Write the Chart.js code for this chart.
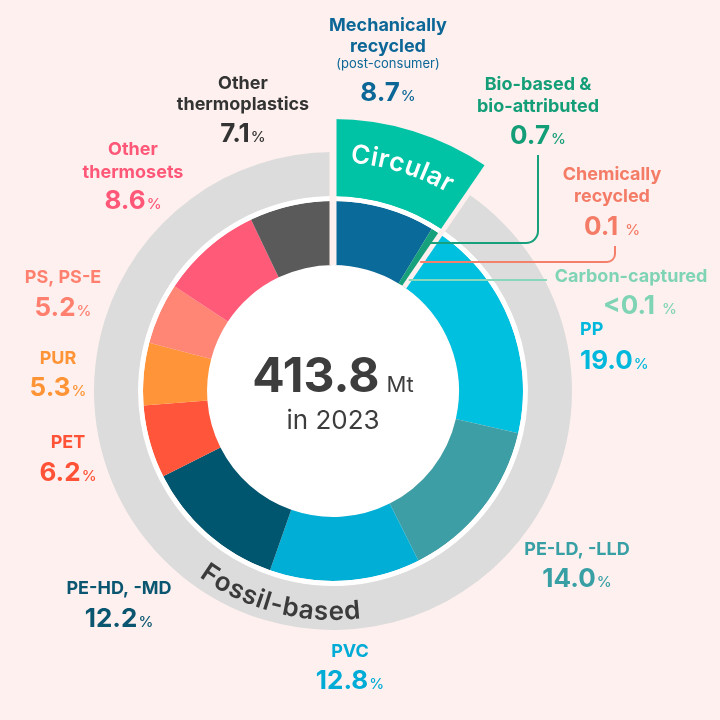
<!DOCTYPE html>
<html>
<head>
<meta charset="utf-8">
<script src="https://cdn.jsdelivr.net/npm/chart.js@4.4.1/dist/chart.umd.min.js"></script>
<style>
  html, body { margin: 0; padding: 0; background: #fdf0ee; }
  canvas { display: block; }
</style>
</head>
<body>
<canvas id="plasticsChart" width="720" height="720"></canvas>
<script>
// World plastics production 2023, share by type (%)
const categories = [
  'Mechanically recycled (post-consumer)', 'Bio-based & bio-attributed', 'Chemically recycled',
  'Carbon-captured', 'PP', 'PE-LD, -LLD', 'PVC', 'PE-HD, -MD', 'PET', 'PUR', 'PS, PS-E',
  'Other thermosets', 'Other thermoplastics'
];
const shares = [8.7, 0.7, 0.1, 0.05, 19.0, 14.0, 12.8, 12.2, 6.2, 5.3, 5.2, 8.6, 7.1];
const shareText = ['8.7', '0.7', '0.1', '<0.1', '19.0', '14.0', '12.8', '12.2', '6.2', '5.3', '5.2', '8.6', '7.1'];
const groups = ['Circular', 'Fossil-based'];
const groupCount = [4, 9];  // how many categories belong to each group
const totalMt = 413.8;
const year = 2023;

const segmentColors = ['#0a6a9a', '#16a07b', '#f47f6b', '#8ad8bc', '#00c0df', '#3d9fa5',
  '#00aed6', '#00566f', '#ff553b', '#ff9538', '#ff8574', '#ff5a78', '#5a5a5a'];
const labelColors = ['#0c6797', '#139e78', '#f47b66', '#80d4b6', '#00b8dc', '#38a0a5',
  '#00acd6', '#0a5570', '#ff5236', '#ff9436', '#ff806f', '#ff5777', '#333333'];
const TEAL = '#00c3a6';
const GREY = '#dcdcdc';
const BG = '#fdf0ee';
const FONT = 'Inter, "Noto Sans", sans-serif';

const groupShares = [0, 0];
let k = 0;
groupCount.forEach((n, g) => { for (let j = 0; j < n; j++) groupShares[g] += shares[k++]; });

// label text lines and where they sit on the page
const nameLines = [
  ['Mechanically', 'recycled'], ['Bio-based &', 'bio-attributed'], ['Chemically', 'recycled'],
  ['Carbon-captured'], ['PP'], ['PE-LD, -LLD'], ['PVC'], ['PE-HD, -MD'], ['PET'], ['PUR'],
  ['PS, PS-E'], ['Other', 'thermosets'], ['Other', 'thermoplastics']
];
const labelLayout = [
  {x: 388, ys: [26, 47], note: 64, vy: 92},
  {x: 538, ys: [85, 107], vy: 135},
  {x: 612, ys: [175, 197], vy: 226, gap: 7},
  {x: 631, ys: [277], vy: 305, vx: 640, gap: 7},
  {x: 580, ys: [330], vy: 360, align: 'left'},
  {x: 577, ys: [550], vy: 578},
  {x: 350, ys: [652], vy: 680},
  {x: 119, ys: [589], vy: 618},
  {x: 68, ys: [443], vy: 472},
  {x: 58, ys: [359], vy: 387},
  {x: 63, ys: [278], vy: 307},
  {x: 133, ys: [150, 173], vy: 200},
  {x: 243, ys: [84, 105], vy: 133}
];
// leader lines for the thin circular slices: [index, y level, corner x, top y]
const leaders = [
  [1, 243, 538, 155],
  [2, 262, 615, 246],
  [3, 280, 547, null]
];

function drawValue(ctx, num, x, cy, color, align, gap) {
  ctx.font = `700 26px ${FONT}`;
  const w1 = ctx.measureText(num).width;
  ctx.font = `500 15px ${FONT}`;
  const w2 = ctx.measureText('%').width;
  const g = gap || 1;
  const left = align === 'left' ? x : x - (w1 + g + w2) / 2;
  ctx.textAlign = 'left';
  ctx.textBaseline = 'alphabetic';
  ctx.fillStyle = color;
  ctx.font = `700 26px ${FONT}`;
  ctx.fillText(num, left, cy + 9);
  ctx.font = `500 15px ${FONT}`;
  ctx.fillText('%', left + w1 + g, cy + 9);
}

function arcText(ctx, text, cx, cy, r, mid, top, spacing) {
  const chars = [...text];
  const widths = chars.map(c => ctx.measureText(c).width + spacing);
  const total = widths.reduce((a, b) => a + b, 0) - spacing;
  let ang = top ? mid - total / (2 * r) : mid + total / (2 * r);
  ctx.textAlign = 'center';
  ctx.textBaseline = 'alphabetic';
  chars.forEach((c, i) => {
    const half = (widths[i] - spacing) / 2 / r;
    ang += top ? half : -half;
    ctx.save();
    ctx.translate(cx + r * Math.cos(ang), cy + r * Math.sin(ang));
    ctx.rotate(top ? ang + Math.PI / 2 : ang - Math.PI / 2);
    ctx.fillText(c, 0, 0);
    ctx.restore();
    ang += top ? half + spacing / r : -(half + spacing / r);
  });
}

const artPlugin = {
  id: 'art',
  afterDatasetsUpdate(chart) {
    // let the outer circular wedge reach down over the grey band so no seam shows
    const outer = chart.getDatasetMeta(0).data[0];
    outer.innerRadius = chart.getDatasetMeta(1).data[0].innerRadius;
  },
  beforeDatasetsDraw(chart) {
    const ctx = chart.ctx;
    const arc = chart.getDatasetMeta(3).data[0];
    ctx.save();
    ctx.fillStyle = '#ffffff';
    ctx.beginPath();
    ctx.arc(arc.x, arc.y, arc.innerRadius, 0, Math.PI * 2);
    ctx.fill();
    ctx.restore();
  },
  afterDatasetsDraw(chart) {
    const ctx = chart.ctx;
    const inner = chart.getDatasetMeta(3).data;
    const cx = inner[0].x, cy = inner[0].y;
    const r0 = inner[0].innerRadius;
    const rOut = chart.getDatasetMeta(0).data[0].outerRadius + 2;
    ctx.save();

    // gaps between the two groups
    const cuts = [[inner[0].startAngle, 7], [inner[groupCount[0]].startAngle, 5]];
    ctx.strokeStyle = BG;
    ctx.lineCap = 'butt';
    cuts.forEach(([a, w]) => {
      ctx.lineWidth = w;
      ctx.beginPath();
      ctx.moveTo(cx + r0 * Math.cos(a), cy + r0 * Math.sin(a));
      ctx.lineTo(cx + rOut * Math.cos(a), cy + rOut * Math.sin(a));
      ctx.stroke();
    });

    // leader lines
    ctx.lineWidth = 2;
    leaders.forEach(([i, y, xv, ytop]) => {
      const a = (inner[i].startAngle + inner[i].endAngle) / 2;
      const t = (y - cy) / Math.sin(a);
      const x0 = cx + t * Math.cos(a);
      ctx.strokeStyle = segmentColors[i];
      ctx.beginPath();
      ctx.moveTo(x0, y);
      if (ytop === null) {
        ctx.lineTo(xv, y);
      } else {
        const rr = Math.min(12, (y - ytop) / 2);
        ctx.lineTo(xv - rr, y);
        ctx.arcTo(xv, y, xv, y - rr, rr);
        ctx.lineTo(xv, ytop);
      }
      ctx.stroke();
    });

    // curved group names
    const circ = chart.getDatasetMeta(0).data[0];
    ctx.fillStyle = '#ffffff';
    ctx.font = `600 26px ${FONT}`;
    arcText(ctx, groups[0], cx, cy, 229, (circ.startAngle + circ.endAngle) / 2, true, 0.5);
    ctx.fillStyle = '#3b3b3b';
    ctx.font = `600 26px ${FONT}`;
    arcText(ctx, groups[1], cx, cy, 229, (104.4 * Math.PI) / 180, false, 0.8);

    // centre total
    ctx.fillStyle = '#3d3d3d';
    ctx.textBaseline = 'alphabetic';
    ctx.textAlign = 'left';
    ctx.font = `700 48px ${FONT}`;
    const big = totalMt.toFixed(1);
    const wb = ctx.measureText(big).width;
    ctx.font = `400 22px ${FONT}`;
    const wm = ctx.measureText('Mt').width;
    const left = cx - (wb + 7 + wm) / 2;
    ctx.font = `700 48px ${FONT}`;
    ctx.fillText(big, left, cy + 1);
    ctx.font = `400 22px ${FONT}`;
    ctx.fillText('Mt', left + wb + 7, cy + 1);
    ctx.textAlign = 'center';
    ctx.font = `400 26px ${FONT}`;
    ctx.fillText('in ' + year, cx, cy + 38);

    // category labels
    nameLines.forEach((lines, i) => {
      const L = labelLayout[i];
      const align = L.align || 'center';
      ctx.fillStyle = labelColors[i];
      ctx.textAlign = align;
      ctx.textBaseline = 'middle';
      ctx.font = `700 18px ${FONT}`;
      lines.forEach((s, j) => ctx.fillText(s, L.x, L.ys[j]));
      if (L.note) {
        ctx.font = `400 13px ${FONT}`;
        ctx.fillText('(post-consumer)', L.x, L.note);
      }
      drawValue(ctx, shareText[i], L.vx || L.x, L.vy, labelColors[i], align, L.gap);
    });
    ctx.restore();
  }
};

const flat = {borderWidth: 0, hoverBorderWidth: 0, hoverOffset: 0, offset: 0};
new Chart(document.getElementById('plasticsChart').getContext('2d'), {
  type: 'doughnut',
  data: {
    labels: categories,
    datasets: [
      Object.assign({data: groupShares, backgroundColor: [TEAL, 'rgba(0,0,0,0)'], weight: 33}, flat),
      Object.assign({data: groupShares, backgroundColor: [TEAL, GREY], weight: 44}, flat),
      Object.assign({data: [groupShares[0] + groupShares[1]], backgroundColor: ['#ffffff'], weight: 5}, flat),
      Object.assign({data: shares, backgroundColor: segmentColors, weight: 64}, flat)
    ]
  },
  options: {
    responsive: false,
    animation: false,
    events: [],
    cutout: '46.32%',
    layout: {padding: {left: 61, right: 115, top: 119, bottom: 57}},
    plugins: {legend: {display: false}, tooltip: {enabled: false}}
  },
  plugins: [artPlugin]
});
</script>
</body>
</html>
